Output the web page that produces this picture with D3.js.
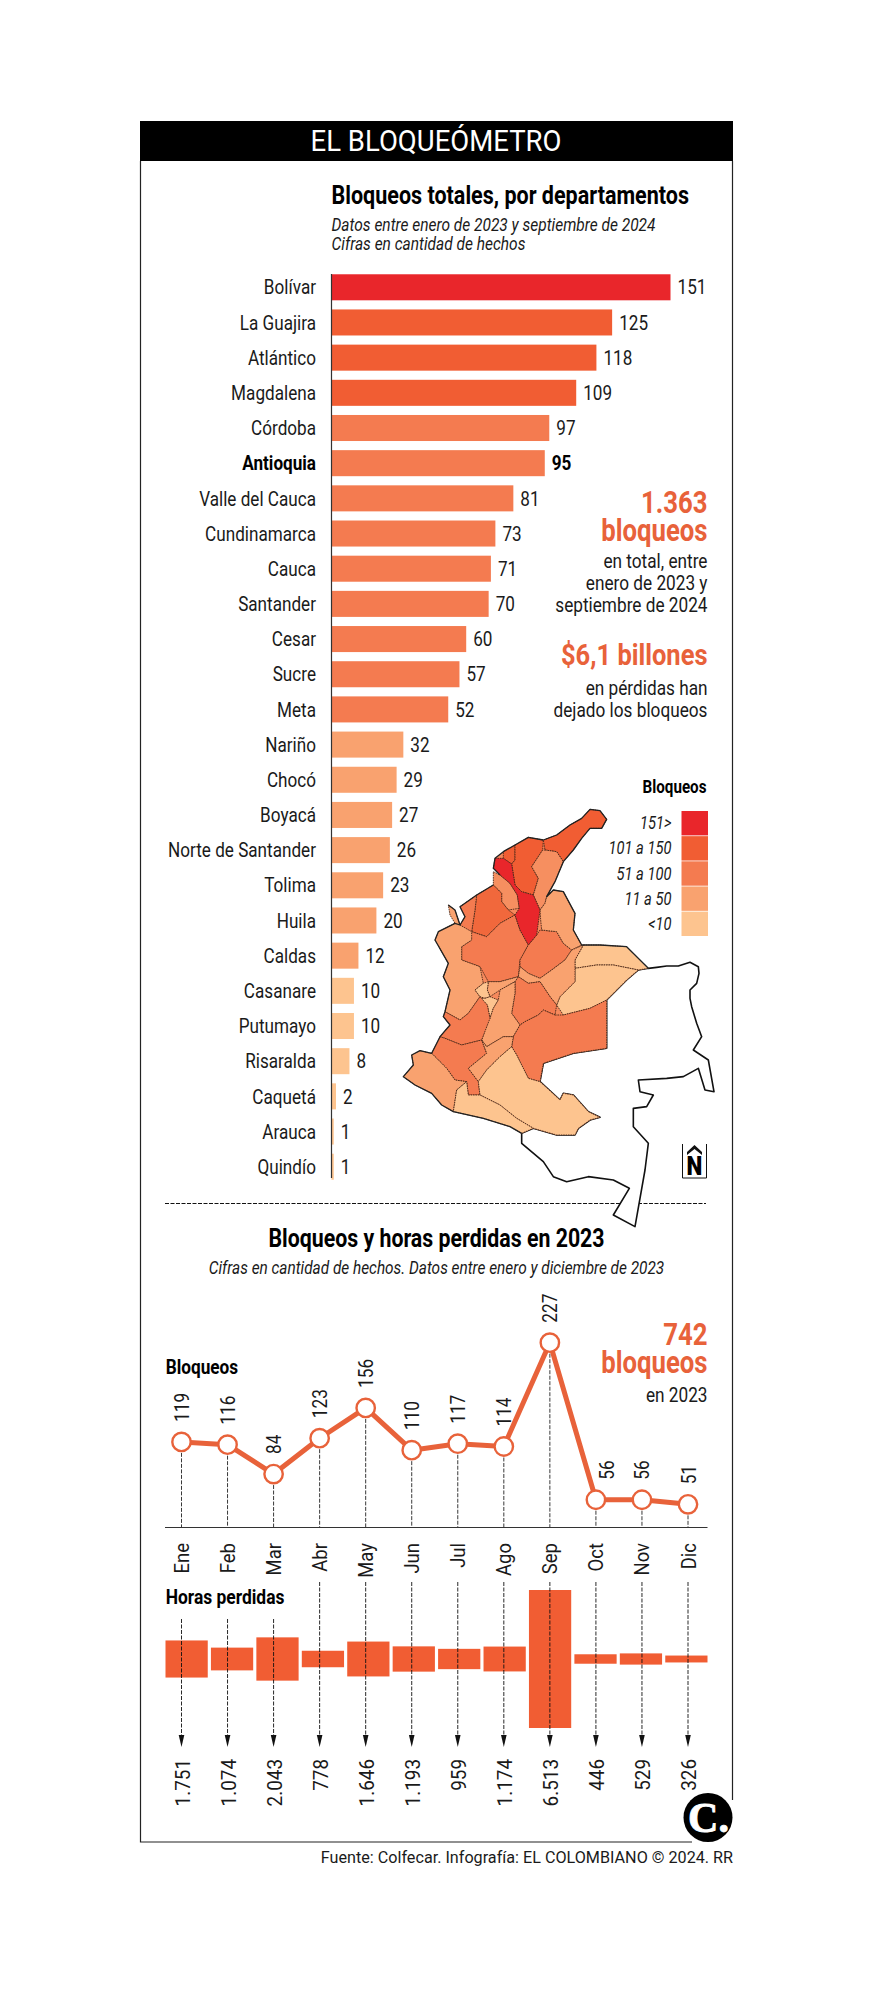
<!DOCTYPE html>
<html><head><meta charset="utf-8">
<script src="https://cdn.jsdelivr.net/npm/d3@7"></script>
<style>html,body{margin:0;padding:0;background:#fff}svg{display:block}text{font-family:Roboto,"Liberation Sans",sans-serif}</style>
</head><body><svg id="c" width="886" height="2000"></svg>
<script>
const departments=["Bolívar","La Guajira","Atlántico","Magdalena","Córdoba","Antioquia","Valle del Cauca","Cundinamarca","Cauca","Santander","Cesar","Sucre","Meta","Nariño","Chocó","Boyacá","Norte de Santander","Tolima","Huila","Caldas","Casanare","Putumayo","Risaralda","Caquetá","Arauca","Quindío"];
const blockades=[151,125,118,109,97,95,81,73,71,70,60,57,52,32,29,27,26,23,20,12,10,10,8,2,1,1];
const months=["Ene","Feb","Mar","Abr","May","Jun","Jul","Ago","Sep","Oct","Nov","Dic"];
const monthlyBlockades=[119,116,84,123,156,110,117,114,227,56,56,51];
const lostHours=[1751,1074,2043,778,1646,1193,959,1174,6513,446,529,326];
const legendLabels=["151>","101 a 150","51 a 100","11 a 50","<10"];
const legendColors=["#E9262B","#F15D33","#F47B50","#F9A26F","#FDC48F"];
const tierThresholds=[11,51,101,151];
const tierColors=["#FDC48F","#F9A26F","#F47B50","#F15D33","#E9262B"];
const mapColorOverrides={"Córdoba":"#F1683C","Sucre":"#F68F60","Cesar":"#F68F60"};
const mapShapes={
"La Guajira":[[570,148],[600,152],[620,178],[605,205],[570,205],[545,235],[520,270],[490,305],[470,275],[435,270],[430,240],[470,225],[510,195],[545,175]],
"Atlántico":[[310,275],[345,255],[345,300],[335,312],[310,295]],
"Magdalena":[[345,255],[385,232],[430,240],[428,270],[395,320],[415,355],[400,405],[365,395],[345,375],[335,312],[345,300]],
"Cesar":[[435,270],[470,275],[490,305],[465,365],[440,410],[435,430],[420,450],[400,405],[415,355],[395,320],[428,270]],
"Sucre":[[280,335],[300,345],[330,370],[352,405],[358,445],[325,450],[305,425],[305,400],[280,375]],
"Córdoba":[[230,405],[280,375],[305,400],[305,425],[325,450],[345,465],[300,490],[260,530],[215,515],[225,450]],
"Antioquia":[[180,440],[230,405],[225,450],[215,515],[260,530],[300,490],[345,465],[360,510],[385,555],[360,600],[355,650],[300,665],[265,665],[240,620],[185,600],[185,560],[215,540],[180,495],[195,470]],
"Chocó":[[145,435],[165,450],[180,495],[215,515],[215,540],[185,560],[185,600],[240,620],[250,670],[225,690],[240,710],[205,760],[180,780],[135,755],[150,690],[130,650],[145,610],[105,540],[115,515],[165,490],[150,465]],
"Santander":[[410,525],[420,510],[470,515],[490,550],[515,570],[495,600],[455,630],[420,655],[385,640],[360,620],[360,600],[385,555]],
"Norte de Santander":[[440,410],[460,390],[490,395],[525,460],[520,510],[545,555],[515,570],[490,550],[470,515],[425,510],[422,480],[420,450],[435,430]],
"Arauca":[[550,555],[600,555],[680,560],[745,625],[715,630],[640,615],[590,615],[525,625],[525,600]],
"Casanare":[[525,625],[590,615],[640,615],[715,630],[680,660],[620,720],[570,745],[490,765],[470,735],[480,710],[525,665]],
"Boyacá":[[515,570],[550,555],[525,600],[525,665],[480,710],[470,735],[450,710],[420,665],[385,670],[355,650],[360,620],[385,640],[420,655],[455,630],[495,600]],
"Cundinamarca":[[355,650],[385,670],[420,665],[450,710],[470,735],[465,765],[430,750],[415,765],[375,785],[360,795],[335,760],[345,700],[345,665]],
"Caldas":[[265,665],[300,665],[355,650],[345,665],[300,690],[270,710],[262,690]],
"Risaralda":[[225,690],[250,670],[265,665],[262,690],[270,710],[255,715],[240,710]],
"Quindío":[[255,715],[270,710],[295,720],[280,745],[270,775],[262,735],[240,715]],
"Tolima":[[345,665],[345,700],[335,760],[360,795],[340,830],[310,830],[260,860],[245,840],[265,780],[270,775],[280,745],[295,720],[300,690]],
"Meta":[[465,765],[490,765],[570,745],[620,720],[620,865],[520,880],[430,910],[420,965],[385,955],[350,885],[335,860],[340,830],[360,795],[375,785],[415,765],[430,750]],
"Valle del Cauca":[[135,755],[180,780],[205,760],[240,710],[262,735],[270,775],[245,840],[185,855],[135,835],[120,830],[150,795],[130,770]],
"Cauca":[[120,830],[135,835],[185,855],[245,840],[260,880],[205,925],[235,965],[240,1005],[205,1005],[200,965],[165,960],[140,925],[95,880]],
"Nariño":[[35,885],[60,872],[95,880],[140,925],[165,960],[200,965],[170,990],[160,1055],[125,1035],[95,1000],[45,975],[10,950],[40,915]],
"Huila":[[310,830],[340,830],[335,860],[300,890],[260,930],[235,965],[205,925],[260,880],[245,840],[260,860]],
"Caquetá":[[335,860],[350,885],[385,955],[420,965],[480,1020],[490,1000],[520,1005],[565,1055],[600,1072],[570,1080],[535,1105],[525,1125],[470,1125],[400,1105],[350,1075],[300,1035],[240,1005],[235,965],[260,930],[300,890]],
"Putumayo":[[170,990],[200,965],[205,1005],[240,1005],[300,1035],[350,1075],[400,1105],[365,1120],[330,1100],[250,1075],[160,1055]],
"Bolívar":[[285,295],[310,295],[335,312],[345,375],[365,395],[400,405],[420,450],[410,525],[385,555],[360,510],[345,465],[358,445],[352,405],[330,370],[300,345],[280,325]]
};
const emptyTerritory=[[745,625],[770,622],[800,618],[835,618],[870,607],[895,620],[897,640],[890,670],[870,690],[870,715],[875,740],[890,790],[905,830],[880,870],[925,900],[942,995],[915,990],[895,925],[850,950],[800,955],[715,960],[720,995],[760,1005],[740,1040],[700,1045],[700,1100],[745,1150],[735,1230],[705,1400],[640,1365],[688,1285],[640,1260],[565,1250],[500,1265],[460,1250],[430,1205],[365,1150],[365,1120],[400,1105],[470,1125],[525,1125],[535,1105],[570,1080],[600,1072],[565,1055],[520,1005],[490,1000],[480,1020],[420,965],[430,910],[520,880],[620,865],[620,720],[680,660],[715,630]];
const coastNorthWest=[[430,240],[385,232],[345,255],[310,275],[285,295],[280,325],[300,345]];
const coastUraba=[[280,375],[230,405],[180,440],[195,470],[180,495]];
const coastPacific=[[145,435],[165,450],[180,495],[165,490],[115,515],[105,540],[145,610],[130,650],[150,690],[135,755],[130,770],[150,795],[120,830],[95,880],[60,872],[35,885],[40,915],[10,950],[45,975],[95,1000],[125,1035],[160,1055],[250,1075],[330,1100],[365,1120]];
const borderEast=[[430,240],[470,225],[510,195],[545,175],[570,148],[600,152],[620,178],[605,205],[570,205],[545,235],[520,270],[490,305],[465,365],[440,410],[460,390],[490,395],[525,460],[520,510],[545,555],[600,555],[680,560],[745,625]];
const countryBack=[...borderEast,[715,630],[680,660],[620,720],[620,865],[520,880],[430,910],[420,965],[480,1020],[490,1000],[520,1005],[565,1055],[600,1072],[570,1080],[535,1105],[525,1125],[470,1125],[400,1105],[365,1120],[330,1100],[250,1075],[160,1055],[125,1035],[95,1000],[45,975],[10,950],[40,915],[35,885],[60,872],[95,880],[120,830],[150,795],[130,770],[135,755],[150,690],[130,650],[145,610],[105,540],[115,515],[165,490],[180,495],[195,470],[180,440],[230,405],[280,375],[300,345],[280,325],[285,295],[310,275],[345,255],[385,232]];

const svg=d3.select("#c");
const ORANGE="#E8623A", INK="#1a1a1a";
function T(parent,s,x,y,o={}){
  const sx=o.sx??0.84;
  const rot=o.rot?` rotate(${o.rot})`:"";
  return parent.append("text").text(s)
   .attr("transform",`translate(${x},${y})${rot} scale(${sx},1)`)
   .attr("font-size",o.size??20.4).attr("font-weight",o.weight??400)
   .attr("font-style",o.italic?"italic":"normal")
   .attr("text-anchor",o.anchor??"start").attr("fill",o.fill??INK);
}
// frame
const frame=svg.append("g");
frame.append("path").attr("d",d3.line()([[140.5,161],[140.5,1842],[692,1842]])).attr("fill","none").attr("stroke","#222").attr("stroke-width",1.2);
frame.append("path").attr("d",d3.line()([[732.5,161],[732.5,1800]])).attr("fill","none").attr("stroke","#222").attr("stroke-width",1.2);
frame.append("rect").attr("x",140).attr("y",121).attr("width",593).attr("height",40).attr("fill","#000");
T(frame,"EL BLOQUEÓMETRO",436,151,{size:29,anchor:"middle",fill:"#fff",sx:.95});

// bars
const x=d3.scaleLinear().domain([0,151]).range([331.5,670.5]);
const y=d3.scaleBand().domain(departments).range([269.7,1184.3]).paddingInner(.26).paddingOuter(.13);
const tier=d3.scaleThreshold().domain(tierThresholds).range(tierColors);
T(svg,"Bloqueos totales, por departamentos",331.5,203.5,{size:26,weight:700,sx:.828,fill:"#000"});
T(svg,"Datos entre enero de 2023 y septiembre de 2024",331.5,231,{size:19,italic:true,sx:.815});
T(svg,"Cifras en cantidad de hechos",331.5,249.5,{size:19,italic:true,sx:.815});
const bars=svg.append("g");
departments.forEach((d,i)=>{
  const v=blockades[i], b=d==="Antioquia";
  const cy=y(d)+y.bandwidth()/2;
  bars.append("rect").attr("x",x(0)).attr("y",y(d)).attr("width",x(v)-x(0)).attr("height",y.bandwidth()).attr("fill",tier(v));
  T(bars,d,316,cy+7.2,{anchor:"end",weight:b?700:400,fill:b?"#000":INK});
  T(bars,v,x(v)+7,cy+7.2,{weight:b?700:400,fill:b?"#000":INK});
});
svg.append("line").attr("x1",331.5).attr("x2",331.5).attr("y1",274).attr("y2",1178).attr("stroke","#333").attr("stroke-width",1.2);

// callouts
const R=707.5;
const big={size:31,weight:700,anchor:"end",fill:ORANGE,sx:.83};
const small={anchor:"end",size:20.5,sx:.84};
T(svg,"1.363",R,513,big);
T(svg,"bloqueos",R,541,big);
T(svg,"en total, entre",R,568,small);
T(svg,"enero de 2023 y",R,590,small);
T(svg,"septiembre de 2024",R,612,small);
T(svg,"$6,1 billones",R,665,{...big,size:30,sx:.85});
T(svg,"en pérdidas han",R,695,small);
T(svg,"dejado los bloqueos",R,717,small);

// separator
svg.append("line").attr("x1",165).attr("x2",706).attr("y1",1203.5).attr("y2",1203.5).attr("stroke","#111").attr("stroke-width",1).attr("stroke-dasharray","4 1.5");

// map
const mx=d3.scaleLinear().domain([0,1020]).range([400,740]);
const my=d3.scaleLinear().domain([0,1440]).range([760,1240]);
const geo=d3.line().x(p=>mx(p[0])).y(p=>my(p[1]));
const map=svg.append("g");
map.append("path").attr("d",geo(emptyTerritory)+"Z").attr("fill","#fff").attr("stroke","#111").attr("stroke-width",1.6).attr("stroke-linejoin","round");
map.append("path").attr("d",geo(countryBack)+"Z").attr("fill","#F6895C");
Object.keys(mapShapes).forEach(n=>{
  map.append("path").attr("d",geo(mapShapes[n])+"Z").attr("fill",mapColorOverrides[n]??tier(blockades[departments.indexOf(n)]))
   .attr("stroke","#4a2818").attr("stroke-width",.9).attr("stroke-dasharray","1.6 .8").attr("stroke-linejoin","round");
});
[coastNorthWest,coastUraba,coastPacific,borderEast].forEach(c=>map.append("path").attr("d",geo(c)).attr("fill","none").attr("stroke","#222").attr("stroke-width",1.3).attr("stroke-linejoin","round"));

// legend
T(svg,"Bloqueos",706.5,793,{size:19,weight:700,anchor:"end",fill:"#000",sx:.8});
const ly=d3.scaleBand().domain(legendLabels).range([811,936]).paddingInner(.03);
legendLabels.forEach((l,i)=>{
  svg.append("rect").attr("x",681.5).attr("y",ly(l)).attr("width",26.5).attr("height",ly.bandwidth()).attr("fill",legendColors[i]);
  T(svg,l,671.5,ly(l)+ly.bandwidth()/2+6,{size:17.5,italic:true,anchor:"end"});
});
// north mark
svg.append("path").attr("d",d3.line()([[682.5,1144],[682.5,1178],[706.5,1178],[706.5,1144]])).attr("fill","none").attr("stroke","#111").attr("stroke-width",1);
svg.append("path").attr("d",d3.line()([[687,1152],[694.5,1145],[702,1152],[702,1155],[694.5,1149],[687,1155]])+"Z").attr("fill","#111");
T(svg,"N",694.5,1175,{size:25,weight:900,anchor:"middle",fill:"#000",sx:.9});

// monthly section
T(svg,"Bloqueos y horas perdidas en 2023",436.5,1246.5,{size:26,weight:700,anchor:"middle",fill:"#000",sx:.82});
T(svg,"Cifras en cantidad de hechos. Datos entre enero y diciembre de 2023",436.5,1274,{size:19,italic:true,anchor:"middle",sx:.81});
const mxs=d3.scalePoint().domain(months).range([181.5,688]);
const vy=d3.scaleLinear().domain([26,227]).range([1527.3,1342.7]);
T(svg,"Bloqueos",165.7,1374,{size:20.5,weight:700,fill:"#000",sx:.84});
T(svg,"742",R,1345,big);
T(svg,"bloqueos",R,1373,big);
T(svg,"en 2023",R,1402,small);
const pts=months.map((m,i)=>[mxs(m),vy(monthlyBlockades[i])]);
months.forEach((m,i)=>{
  svg.append("line").attr("x1",mxs(m)).attr("x2",mxs(m)).attr("y1",pts[i][1]).attr("y2",1527).attr("stroke","#222").attr("stroke-width",.9).attr("stroke-dasharray","4 1.5");
});
svg.append("line").attr("x1",165).attr("x2",707.5).attr("y1",1527.5).attr("y2",1527.5).attr("stroke","#333").attr("stroke-width",1.2);
svg.append("path").attr("d",d3.line()(pts)).attr("fill","none").attr("stroke",ORANGE).attr("stroke-width",5).attr("stroke-linejoin","round");
months.forEach((m,i)=>{
  svg.append("circle").attr("cx",pts[i][0]).attr("cy",pts[i][1]).attr("r",9.2).attr("fill","#fff").attr("stroke",ORANGE).attr("stroke-width",2.4);
  const dx=m==="Oct"?11:0;
  T(svg,monthlyBlockades[i],mxs(m)+7.5+dx,pts[i][1]-20,{rot:-90,size:20.5,sx:.84});
  T(svg,m,mxs(m)+7.5,1543,{rot:-90,size:21,sx:.88,anchor:"end"});
});

// hours
T(svg,"Horas perdidas",165.7,1604,{size:20.5,weight:700,fill:"#000",sx:.85});
const hb=d3.scaleBand().domain(months).range([165.5,707.5]).paddingInner(.07);
const hh=d3.scaleLinear().domain([0,6513]).range([0,138]);
months.forEach((m,i)=>{
  svg.append("rect").attr("x",hb(m)).attr("width",hb.bandwidth()).attr("y",1659-hh(lostHours[i])/2).attr("height",hh(lostHours[i])).attr("fill","#F15D33");
});
months.forEach((m,i)=>{
  const cx=mxs(m), top=i<3?1619:1582;
  svg.append("line").attr("x1",cx).attr("x2",cx).attr("y1",top).attr("y2",1738).attr("stroke","#111").attr("stroke-width",.9).attr("stroke-dasharray","4 1.5");
  svg.append("path").attr("d",d3.line()([[cx-2.8,1735],[cx+2.8,1735],[cx,1747]])+"Z").attr("fill","#111");
  T(svg,d3.format(",")(lostHours[i]).replace(",","."),cx+8,1759,{rot:-90,size:21,sx:.9,anchor:"end"});
});

// logo and source
svg.append("circle").attr("cx",708).attr("cy",1817.5).attr("r",27).attr("fill","#fff");
svg.append("circle").attr("cx",708).attr("cy",1817.5).attr("r",24.5).attr("fill","#000");
svg.append("text").text("C.").attr("x",708.5).attr("y",1832).attr("text-anchor","middle").attr("font-size",42).attr("font-weight",700).attr("fill","#fff").attr("stroke","#fff").attr("stroke-width",.9).style("font-family","'Liberation Serif',serif");
T(svg,"Fuente: Colfecar. Infografía: EL COLOMBIANO © 2024. RR",733,1863,{size:16.5,anchor:"end",sx:.98});
</script></body></html>
